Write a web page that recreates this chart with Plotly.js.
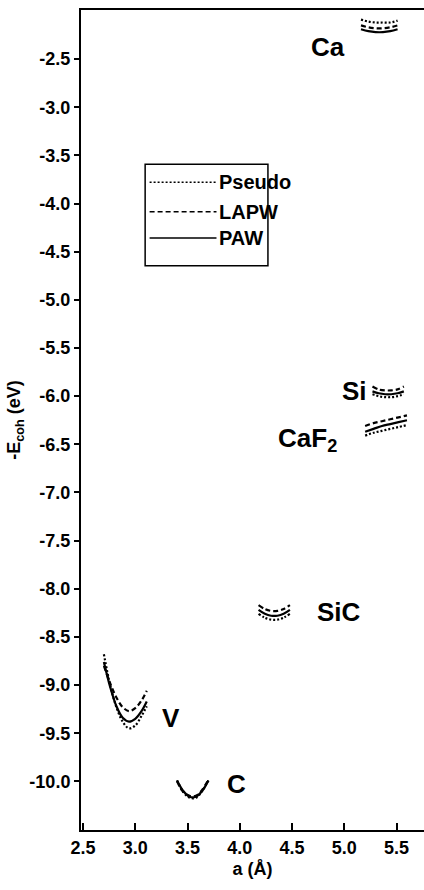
<!DOCTYPE html>
<html>
<head>
<meta charset="utf-8">
<script src="https://cdn.plot.ly/plotly-3.0.1.min.js"></script>
<style>html,body{margin:0;padding:0;background:#fff;}#chart{width:424px;height:890px;}</style>
</head>
<body>
<div id="chart"></div>
<script>
// ---- data (lattice constant a in Å, -E_coh in eV) ----
const caX      = [5.16, 5.23, 5.30, 5.37, 5.44, 5.51];
const caPseudo = [-2.09, -2.11, -2.12, -2.12, -2.12, -2.10];
const caLAPW   = [-2.15, -2.17, -2.18, -2.18, -2.17, -2.15];
const caPAW    = [-2.19, -2.21, -2.22, -2.22, -2.21, -2.19];

const siX      = [5.27, 5.33, 5.39, 5.45, 5.51, 5.57];
const siPseudo = [-5.98, -6.00, -6.01, -6.01, -6.00, -5.98];
const siLAPW   = [-5.90, -5.93, -5.94, -5.94, -5.93, -5.90];
const siPAW    = [-5.95, -5.97, -5.98, -5.98, -5.97, -5.95];

const caf2X      = [5.20, 5.28, 5.36, 5.44, 5.52, 5.60];
const caf2Pseudo = [-6.41, -6.38, -6.36, -6.34, -6.32, -6.30];
const caf2LAPW   = [-6.31, -6.28, -6.26, -6.24, -6.22, -6.20];
const caf2PAW    = [-6.37, -6.34, -6.31, -6.29, -6.27, -6.25];

const sicX      = [4.18, 4.24, 4.30, 4.36, 4.42, 4.48];
const sicPseudo = [-8.26, -8.30, -8.32, -8.32, -8.30, -8.26];
const sicLAPW   = [-8.17, -8.21, -8.23, -8.23, -8.21, -8.17];
const sicPAW    = [-8.22, -8.26, -8.28, -8.28, -8.26, -8.22];

const vX      = [2.70, 2.76, 2.82, 2.88, 2.94, 3.00, 3.06, 3.11];
const vPseudo = [-8.68, -9.00, -9.23, -9.38, -9.45, -9.42, -9.32, -9.22];
const vLAPW   = [-8.80, -8.98, -9.13, -9.23, -9.27, -9.24, -9.16, -9.06];
const vPAW    = [-8.76, -9.02, -9.22, -9.34, -9.38, -9.35, -9.27, -9.17];

const cX      = [3.40, 3.46, 3.52, 3.58, 3.64, 3.70];
const cPseudo = [-9.99, -10.11, -10.17, -10.17, -10.10, -9.99];
const cLAPW   = [-10.00, -10.11, -10.15, -10.15, -10.09, -9.98];
const cPAW    = [-9.99, -10.10, -10.16, -10.16, -10.10, -9.99];

const methods = ["Pseudo", "LAPW", "PAW"];
const materialNames = ["Ca", "Si", "CaF<sub>2</sub>", "SiC", "V", "C"];
const materialLabelX = [4.84, 5.10, 4.65, 4.95, 3.34, 3.97];
const materialLabelY = [-2.37, -5.95, -6.45, -8.24, -9.34, -10.03];

const xTicks = [2.5, 3.0, 3.5, 4.0, 4.5, 5.0, 5.5];
const xTickText = ["2.5", "3.0", "3.5", "4.0", "4.5", "5.0", "5.5"];
const yTicks = [-10.0, -9.5, -9.0, -8.5, -8.0, -7.5, -7.0, -6.5, -6.0, -5.5, -5.0, -4.5, -4.0, -3.5, -3.0, -2.5];
const yTickText = ["-10.0", "-9.5", "-9.0", "-8.5", "-8.0", "-7.5", "-7.0", "-6.5", "-6.0", "-5.5", "-5.0", "-4.5", "-4.0", "-3.5", "-3.0", "-2.5"];

// ---- build traces ----
const dashFor = {Pseudo: "2px,2px", LAPW: "5px,3px", PAW: "solid"};
const groups = [
  [caX, caPseudo, caLAPW, caPAW],
  [siX, siPseudo, siLAPW, siPAW],
  [caf2X, caf2Pseudo, caf2LAPW, caf2PAW],
  [sicX, sicPseudo, sicLAPW, sicPAW],
  [vX, vPseudo, vLAPW, vPAW],
  [cX, cPseudo, cLAPW, cPAW]
];
const traces = [];
groups.forEach(g => {
  methods.forEach((m, i) => {
    traces.push({
      x: g[0], y: g[i + 1], type: "scatter", mode: "lines",
      line: {color: "#000", width: 2.2, dash: dashFor[m], shape: "spline"},
      showlegend: false, hoverinfo: "skip"
    });
  });
});

const FONT = "Liberation Sans, Arial, Helvetica, sans-serif";
const annotations = materialNames.map((n, i) => ({
  x: materialLabelX[i], y: materialLabelY[i], xref: "x", yref: "y",
  text: n, showarrow: false,
  font: {family: FONT, size: 26, color: "#000", weight: "bold"}
}));

// custom legend box (paper coords)
const legX0 = 0.187, legX1 = 0.545, legY0 = 0.688, legY1 = 0.812;
const legRows = [0.790, 0.754, 0.722];
const shapes = [{
  type: "rect", xref: "paper", yref: "paper",
  x0: legX0, x1: legX1, y0: legY0, y1: legY1,
  line: {color: "#000", width: 1.5}, fillcolor: "rgba(0,0,0,0)"
}];
methods.forEach((m, i) => {
  shapes.push({
    type: "line", xref: "paper", yref: "paper",
    x0: 0.200, x1: 0.395, y0: legRows[i], y1: legRows[i],
    line: {color: "#000", width: 1.5, dash: dashFor[m]}
  });
  annotations.push({
    x: 0.396, y: legRows[i], xref: "paper", yref: "paper",
    xanchor: "left", yanchor: "middle", text: m, showarrow: false,
    font: {family: FONT, size: 20, color: "#000", weight: "bold"}
  });
});

const layout = {
  width: 424, height: 890,
  margin: {l: 81, r: 0, t: 10, b: 60},
  paper_bgcolor: "#fff", plot_bgcolor: "#fff",
  showlegend: false,
  font: {family: FONT, color: "#000"},
  xaxis: {
    range: [2.481, 5.763], showgrid: false, zeroline: false,
    showline: true, linecolor: "#000", linewidth: 2, mirror: true,
    ticks: "inside", ticklen: 7, tickwidth: 2, tickcolor: "#000",
    tickvals: xTicks, ticktext: xTickText, automargin: false,
    tickfont: {family: FONT, size: 18, weight: "bold"},
    title: {text: "a (Å)", font: {family: FONT, size: 18, weight: "bold"}, standoff: 6}
  },
  yaxis: {
    range: [-10.505, -1.99], showgrid: false, zeroline: false,
    showline: true, linecolor: "#000", linewidth: 2, mirror: false,
    ticks: "outside", ticklen: 5, tickwidth: 2, tickcolor: "#000",
    tickvals: yTicks, ticktext: yTickText, automargin: false,
    tickfont: {family: FONT, size: 18, weight: "bold"},
    title: {text: "-E<sub>coh</sub> (eV)", font: {family: FONT, size: 18, weight: "bold"}, standoff: 4}
  },
  annotations: annotations,
  shapes: shapes
};

Plotly.newPlot("chart", traces, layout, {staticPlot: true, displayModeBar: false});
</script>
</body>
</html>
